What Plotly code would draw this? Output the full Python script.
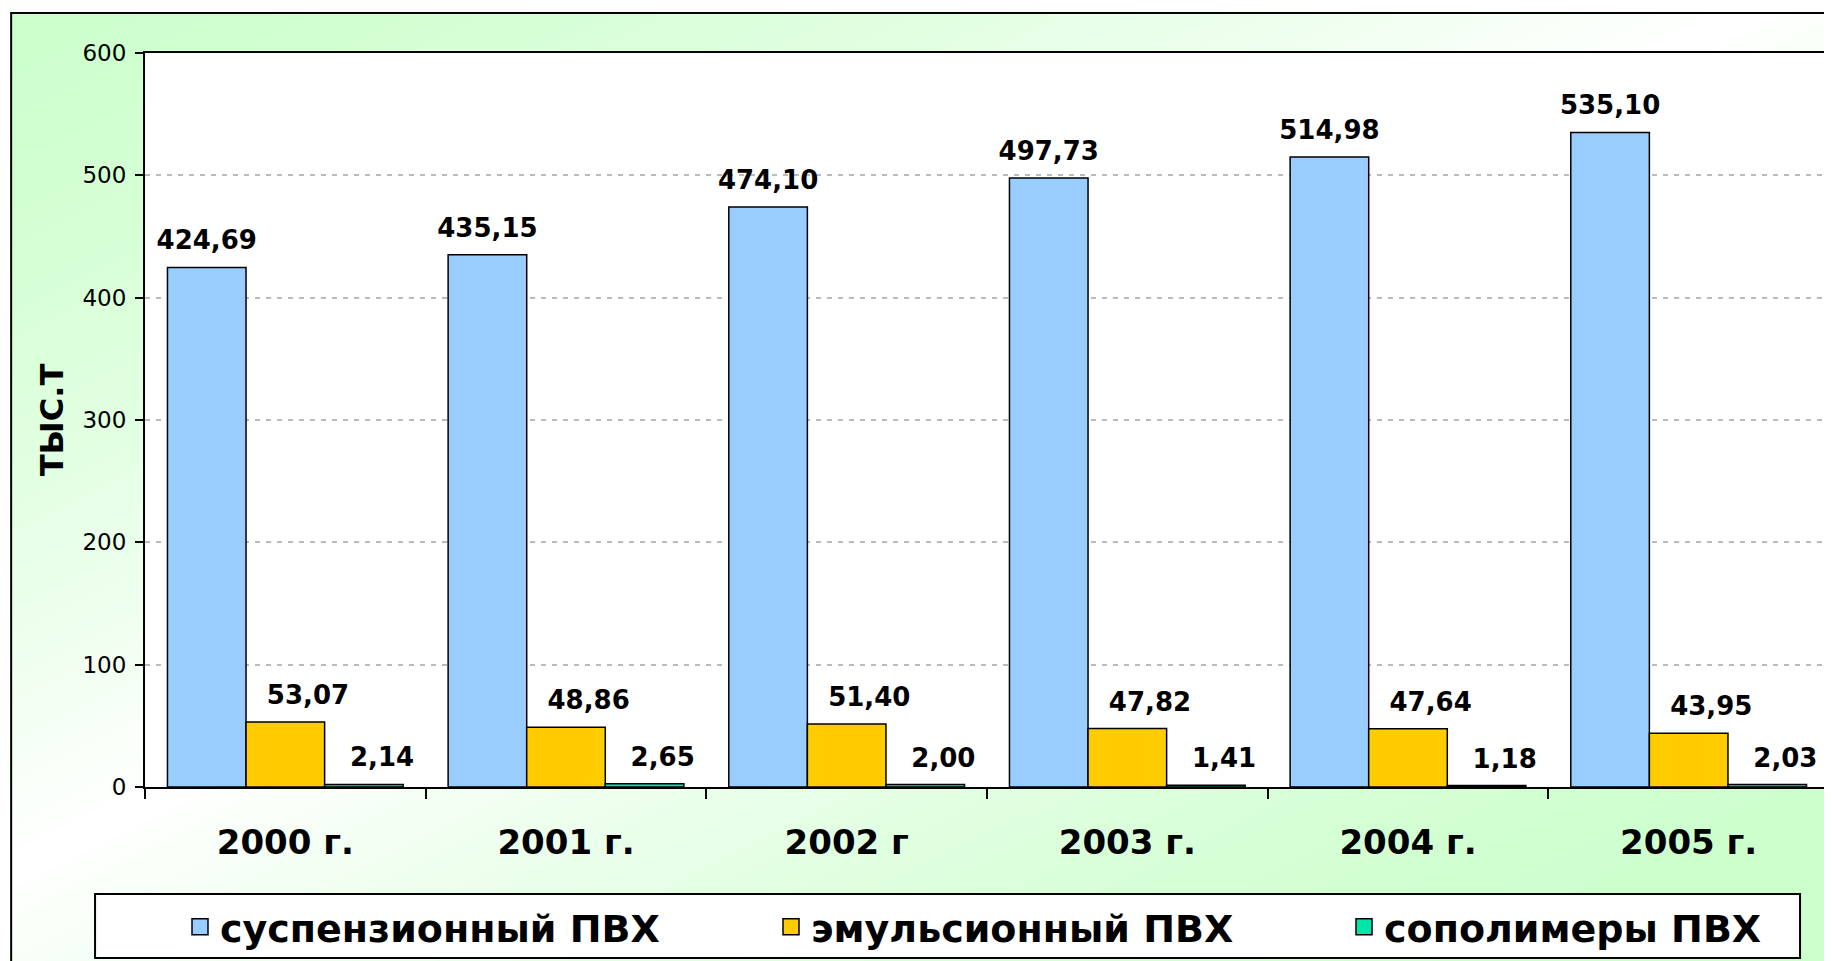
import plotly.graph_objects as go

years = ["2000 г.", "2001 г.", "2002 г", "2003 г.", "2004 г.", "2005 г."]
susp = [424.69, 435.15, 474.10, 497.73, 514.98, 535.10]
emul = [53.07, 48.86, 51.40, 47.82, 47.64, 43.95]
copol = [2.14, 2.65, 2.00, 1.41, 1.18, 2.03]
series_names = ["суспензионный ПВХ", "эмульсионный ПВХ", "сополимеры ПВХ"]
series_colors = ["#99CCFF", "#FFCC00", "#00E5AA"]
y_ticks = [0, 100, 200, 300, 400, 500, 600]

W, H = 1832, 961
PL, PR, PT, PB = 137, 1823, 45, 779  # plot area in figure pixels
FONT = "DejaVu Sans"


def px2paper(X, Y):
    return (X - PL) / (PR - PL), (PB - Y) / (PB - PT)


# labels of the small bars sit slightly right of the bar centre (as in the original)
label_pad = [0, 5, 4]

fig = go.Figure()
for vals, name, col, pad in zip([susp, emul, copol], series_names,
                                series_colors, label_pad):
    fig.add_trace(go.Bar(
        x=years, y=vals, name=name, showlegend=False,
        marker=dict(color=col, line=dict(color="black", width=1.5)),
        texttemplate="<span style='font-size:26px'>" + "&nbsp;" * pad
                     + "%{y:.2f}</span><br>&nbsp;",
        textposition="outside", constraintext="none", cliponaxis=False,
        textfont=dict(family=FONT, size=10, color="black", weight="bold"),
        hoverinfo="skip",
    ))
# legend entries (one legend per series, placed like the original)
legend_ids = ["legend", "legend2", "legend3"]
for name, col, lid in zip(series_names, series_colors, legend_ids):
    fig.add_trace(go.Scatter(
        x=[None], y=[None], mode="markers", name=name, legend=lid,
        marker=dict(symbol="square", size=24, color=col,
                    line=dict(color="black", width=1.5)),
    ))

# background gradient (diagonal, light green corners -> white middle)
shapes = []
X0, Y0, SX, SY = 3, 5, 1740, 857
N = 112
cmin, cmax = -0.2, 2.6
for k in range(N):
    c0 = cmin + (cmax - cmin) * k / N
    c1 = cmin + (cmax - cmin) * (k + 1) / N + 0.004
    cm = (c0 + c1) / 2
    f = min(1.0, max(0.0, 1 - abs(1 - cm))) ** 1.4
    r = int(round(204 + 51 * f))
    col = f"rgb({r},255,{r})"
    pts = [(c0 + 1, -1), (c1 + 1, -1), (c1 - 2, 2), (c0 - 2, 2)]
    pp = [px2paper(X0 + u * SX, Y0 + v * SY) for u, v in pts]
    path = "M " + " L ".join(f"{x:.5f},{y:.5f}" for x, y in pp) + " Z"
    shapes.append(dict(type="path", xref="paper", yref="paper", path=path,
                       fillcolor=col, line=dict(width=0), layer="below"))


def rect(X1, Y1, X2, Y2, fill, lw=0, lc="black"):
    a = px2paper(X1, Y1)
    b = px2paper(X2, Y2)
    return dict(type="rect", xref="paper", yref="paper",
                x0=a[0], y0=a[1], x1=b[0], y1=b[1],
                fillcolor=fill, line=dict(width=lw, color=lc), layer="below")


shapes.append(rect(-50, -50, 1900, 4, "white"))
shapes.append(rect(-50, -50, 2, 1000, "white"))
shapes.append(rect(PL, PT, PR, PB, "white"))
# outer chart border (continues past the picture edges)
shapes.append(rect(3, 5, 1850, 985, "rgba(0,0,0,0)", 2))
# legend box
shapes.append(rect(87, 886, 1794, 950, "white", 2))

legend_common = dict(orientation="h", xref="container", yref="container",
                     y=1 - 919 / H, xanchor="left", yanchor="middle",
                     bgcolor="rgba(0,0,0,0)", borderwidth=0,
                     font=dict(family=FONT, size=38, color="black",
                               weight="bold"),
                     itemclick=False, itemdoubleclick=False)

fig.update_layout(
    width=W, height=H,
    margin=dict(l=PL, r=W - PR, t=PT, b=H - PB, pad=0),
    paper_bgcolor="white", plot_bgcolor="white",
    separators=", ",
    barmode="group", bargap=0.16, bargroupgap=0,
    font=dict(family=FONT, color="black"),
    shapes=shapes,
    showlegend=True,
    legend=dict(x=172 / W, **legend_common),
    legend2=dict(x=763 / W, **legend_common),
    legend3=dict(x=1336 / W, **legend_common),
    xaxis=dict(type="category", showline=True, mirror=True, linecolor="black",
               linewidth=2, ticks="outside", tickson="boundaries", ticklen=10,
               tickwidth=2, tickcolor="black", showgrid=False,
               ticklabelstandoff=24,
               tickfont=dict(family=FONT, size=34, color="black", weight="bold")),
    yaxis=dict(range=[0, 600], tickvals=y_ticks, showline=True, mirror=True,
               linecolor="black", linewidth=2, ticks="outside", ticklen=8,
               tickwidth=2, tickcolor="black", showgrid=True,
               gridcolor="#BBBBBB", gridwidth=1.5, griddash="5px,6px",
               zeroline=False, ticklabelstandoff=4,
               tickfont=dict(family=FONT, size=23, color="black"),
               title=dict(text="ТЫС.Т", standoff=9,
                          font=dict(family=FONT, size=32, color="black",
                                    weight="bold"))),
)

fig.write_html("out.html")
